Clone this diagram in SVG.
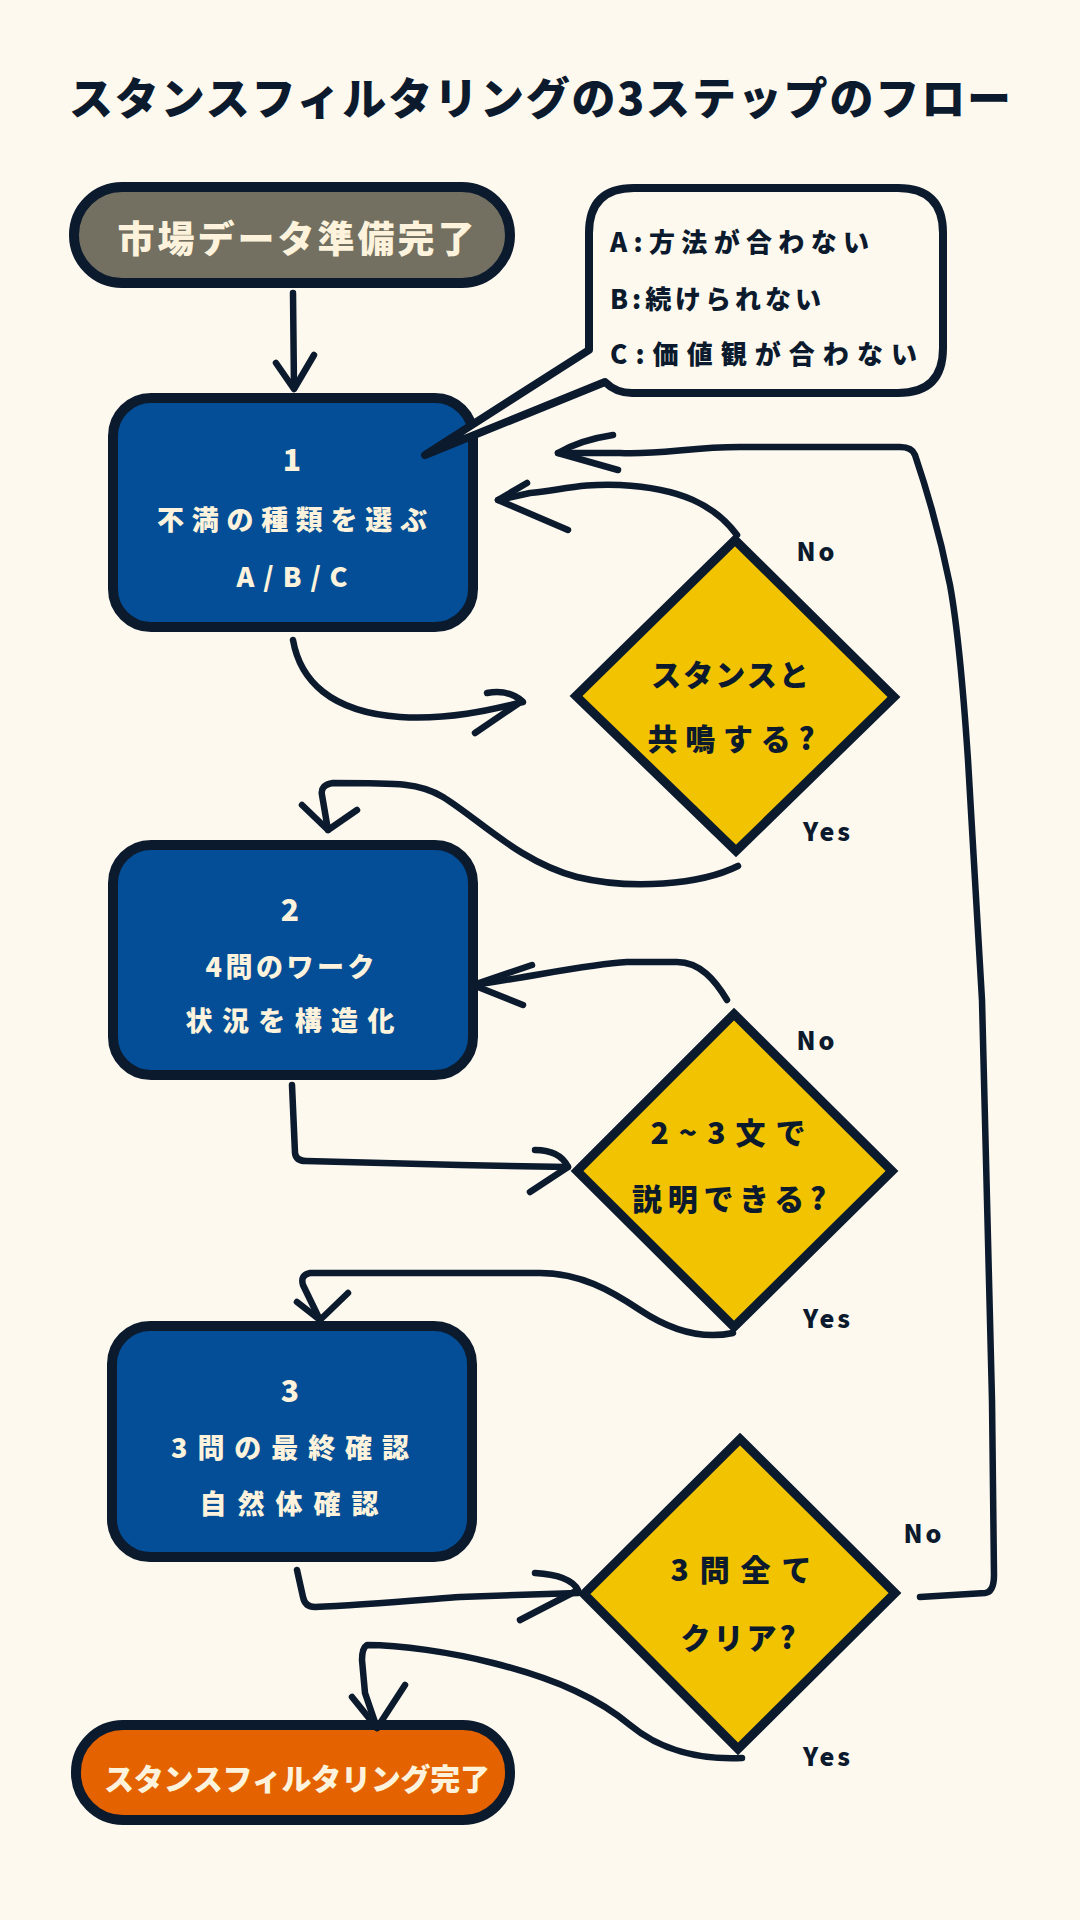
<svg xmlns="http://www.w3.org/2000/svg" width="1080" height="1920" viewBox="0 0 1080 1920">
<defs>
<style>
.bg{fill:#fdf9ef}
.node{stroke:#0c1a2e;stroke-width:10;stroke-linejoin:round}
.pill-gray{fill:#737062}
.pill-orange{fill:#e46300}
.box{fill:#034e96}
.dia{fill:#f2c300;stroke:#0c1a2e;stroke-width:9;stroke-linejoin:miter}
.bubble{fill:#fdf9ef;stroke:#0c1a2e;stroke-width:8;stroke-linejoin:round}
.conn path{fill:none;stroke:#0c1a2e;stroke-width:6.5;stroke-linecap:round;stroke-linejoin:round}
text{font-family:"Noto Sans CJK JP","Noto Sans",sans-serif;font-weight:900;dominant-baseline:central}
.t-light{fill:#fdf3dc;text-anchor:middle}
.t-dark{fill:#0c1a2e;text-anchor:middle}
.t-call{fill:#0c1a2e;font-size:26px}
.lbl{fill:#0c1a2e;font-size:25px;text-anchor:middle;letter-spacing:3px}
</style>
</defs>
<rect class="bg" x="0" y="0" width="1080" height="1920"/>

<g id="title">
<text class="t-dark" x="540" y="96" font-size="44" textLength="942" lengthAdjust="spacing">スタンスフィルタリングの3ステップのフロー</text>
</g>

<g id="start">
<rect class="node pill-gray" x="74" y="187" width="436" height="96" rx="48"/>
<text class="t-light" x="296" y="237" font-size="37" textLength="357" lengthAdjust="spacing">市場データ準備完了</text>
</g>

<g id="step1">
<rect class="node box" x="113" y="398" width="360" height="229" rx="38"/>
<text class="t-light" x="292" y="458" font-size="30">1</text>
<text class="t-light" x="292" y="518" font-size="27" textLength="270" lengthAdjust="spacing">不満の種類を選ぶ</text>
<text class="t-light" x="292" y="575" font-size="27" textLength="111" lengthAdjust="spacing">A/B/C</text>
</g>

<g id="note">
<path class="bubble" d="M634 188 H898 Q943 188 943 233 V348 Q943 393 898 393 H632 Q616 393 605 382 L425 455 L589 350 V233 Q589 188 634 188 Z"/>
<text class="t-call" x="610" y="240" textLength="259" lengthAdjust="spacing">A:方法が合わない</text>
<text class="t-call" x="610" y="297" textLength="211" lengthAdjust="spacing">B:続けられない</text>
<text class="t-call" x="610" y="352" textLength="307" lengthAdjust="spacing">C:価値観が合わない</text>
</g>

<g id="decision1">
<polygon class="dia" points="735,540 894,697 736,851 576,696"/>
<text class="t-dark" x="730" y="673" font-size="30" textLength="158" lengthAdjust="spacing">スタンスと</text>
<text class="t-dark" x="731" y="737" font-size="30" textLength="167" lengthAdjust="spacing">共鳴する?</text>
</g>

<g id="step2">
<rect class="node box" x="113" y="845" width="360" height="230" rx="38"/>
<text class="t-light" x="290" y="908" font-size="30">2</text>
<text class="t-light" x="290" y="965" font-size="27" textLength="169" lengthAdjust="spacing">4問のワーク</text>
<text class="t-light" x="290" y="1019" font-size="27" textLength="209" lengthAdjust="spacing">状況を構造化</text>
</g>

<g id="decision2">
<polygon class="dia" points="734,1014 892,1171 734,1327 577,1171"/>
<text class="t-dark" x="728" y="1131" font-size="30" textLength="155" lengthAdjust="spacing">2~3文で</text>
<text class="t-dark" x="729" y="1197" font-size="30" textLength="194" lengthAdjust="spacing">説明できる?</text>
</g>

<g id="step3">
<rect class="node box" x="112" y="1326" width="360" height="231" rx="38"/>
<text class="t-light" x="290" y="1389" font-size="30">3</text>
<text class="t-light" x="290" y="1446" font-size="27" textLength="238" lengthAdjust="spacing">3問の最終確認</text>
<text class="t-light" x="289" y="1502" font-size="27" textLength="179" lengthAdjust="spacing">自然体確認</text>
</g>

<g id="decision3">
<polygon class="dia" points="740,1439 895,1593 738,1749 584,1594"/>
<text class="t-dark" x="741" y="1568" font-size="30" textLength="141" lengthAdjust="spacing">3問全て</text>
<text class="t-dark" x="738" y="1636" font-size="30" textLength="115" lengthAdjust="spacing">クリア?</text>
</g>

<g id="end">
<rect class="node pill-orange" x="76" y="1725" width="434" height="95" rx="47"/>
<text class="t-light" x="297" y="1777" font-size="30" textLength="386" lengthAdjust="spacing">スタンスフィルタリング完了</text>
</g>

<g id="connectors" class="conn">
<path d="M293 293 L294 388"/>
<path d="M276 363 L294 389 L314 355"/>

<path d="M293 640 C300 680 330 712 400 717 C450 720 490 710 523 702"/>
<path d="M487 693 Q508 689 522 701 L475 733"/>

<path d="M737 535 C715 505 680 488 620 485 C585 483 560 490 530 493 L498 500"/>
<path d="M527 483 L498 500 L568 530"/>

<path d="M738 866 C700 885 630 890 577 877 C520 862 480 820 443 797 C420 783 400 783 333 783 Q320 785 322 795 L328 830"/>
<path d="M302 805 L328 830 L357 810"/>

<path d="M292 1085 L295 1153 Q296 1161 306 1161 L460 1165 L568 1167"/>
<path d="M535 1150 Q560 1150 568 1167 L530 1192"/>

<path d="M727 1000 C715 980 700 962 677 962 L627 962 C590 964 540 975 493 982 L473 985"/>
<path d="M532 965 L473 985 L523 1005"/>

<path d="M733 1333 C700 1340 670 1330 640 1310 C610 1290 580 1273 540 1273 L310 1273 Q300 1275 303 1285 L319 1318"/>
<path d="M297 1302 L320 1320 L348 1293"/>

<path d="M297 1570 L303 1597 Q305 1607 315 1607 C360 1605 420 1600 460 1597 L578 1593"/>
<path d="M535 1573 Q570 1575 578 1590 L520 1620"/>

<path d="M920 1597 L985 1593 Q994 1592 994 1575 L992 1400 L982 1000 L968 760 Q960 640 950 585 Q937 520 915 455 Q912 447 900 447 L740 447 C690 447 660 455 620 453 L558 453"/>
<path d="M613 435 Q580 440 558 453 L618 470"/>

<path d="M742 1758 C700 1760 660 1750 630 1725 C600 1700 560 1680 493 1663 C450 1652 400 1645 367 1645 Q362 1648 362 1660 L365 1693 L377 1728"/>
<path d="M352 1697 L377 1728 L405 1685"/>
</g>

<g id="labels">
<text class="lbl" x="817" y="550">No</text>
<text class="lbl" x="828" y="830">Yes</text>
<text class="lbl" x="817" y="1039">No</text>
<text class="lbl" x="828" y="1317">Yes</text>
<text class="lbl" x="924" y="1532">No</text>
<text class="lbl" x="828" y="1755">Yes</text>
</g>
</svg>
